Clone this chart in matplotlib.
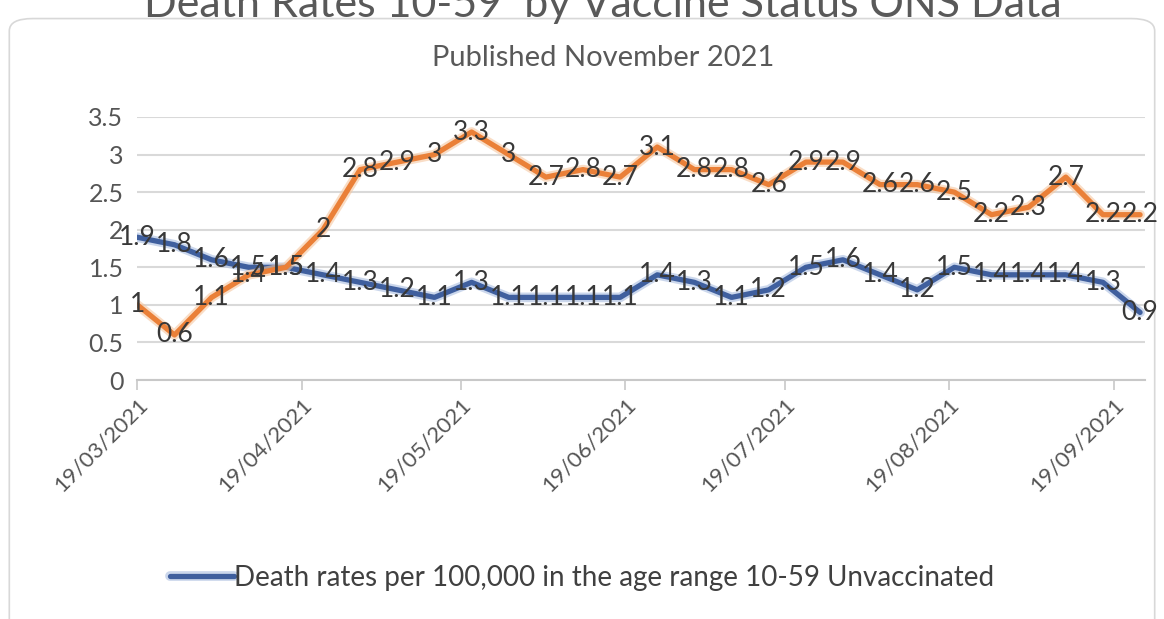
import datetime as dt
import matplotlib
matplotlib.use("Agg")
import matplotlib.pyplot as plt
import matplotlib.dates as mdates
import matplotlib.patheffects as pe
from matplotlib.patches import FancyBboxPatch

plt.rcParams['font.family'] = ['Lato', 'DejaVu Sans']

# weekly figures, starting 19/03/2021
start = dt.date(2021, 3, 19)
weeks = [start + dt.timedelta(days=7 * i) for i in range(28)]

unvaccinated = [1.9, 1.8, 1.6, 1.5, 1.5, 1.4, 1.3, 1.2, 1.1, 1.3, 1.1, 1.1, 1.1, 1.1,
                1.4, 1.3, 1.1, 1.2, 1.5, 1.6, 1.4, 1.2, 1.5, 1.4, 1.4, 1.4, 1.3, 0.9]
vaccinated = [1, 0.6, 1.1, 1.4, 1.5, 2, 2.8, 2.9, 3, 3.3, 3, 2.7, 2.8, 2.7,
              3.1, 2.8, 2.8, 2.6, 2.9, 2.9, 2.6, 2.6, 2.5, 2.2, 2.3, 2.7, 2.2, 2.2]

title = "Death Rates 10-59  by Vaccine Status ONS Data"
subtitle = "Published November 2021"
legend_label = "Death rates per 100,000 in the age range 10-59 Unvaccinated"

blue = "#3f5f9e"
orange = "#ea8038"
label_color = "#383838"

fig = plt.figure(figsize=(11.64, 6.19), dpi=100)
fig.patch.set_facecolor("white")

# rounded card outline
card = FancyBboxPatch((0.008, -0.05), 0.984, 1.02, boxstyle="round,pad=0,rounding_size=0.02",
                      transform=fig.transFigure, facecolor="none", edgecolor="#d8d8d8",
                      linewidth=1.2, zorder=-5)
fig.patches.append(card)

ax = fig.add_axes([0.118, 0.386, 0.866, 0.425])
ax.set_facecolor("none")

glow_b = [pe.Stroke(linewidth=7, foreground="#a9bde0", alpha=0.6), pe.Normal()]
glow_o = [pe.Stroke(linewidth=7, foreground="#f6c7a0", alpha=0.6), pe.Normal()]
ax.plot(weeks, unvaccinated, color=blue, lw=3.8, solid_capstyle="round",
        path_effects=glow_b, label=legend_label, zorder=3)
ax.plot(weeks, vaccinated, color=orange, lw=3.8, solid_capstyle="round",
        path_effects=glow_o, zorder=3)

for d, v in zip(weeks, unvaccinated):
    ax.text(d, v, f"{v:g}", ha="center", va="center", fontsize=19,
            color=label_color, zorder=4)
for d, v in zip(weeks, vaccinated):
    ax.text(d, v, f"{v:g}", ha="center", va="center", fontsize=19,
            color=label_color, zorder=4)

ax.set_ylim(0, 3.5)
ax.set_yticks([0, 0.5, 1, 1.5, 2, 2.5, 3, 3.5])
ax.set_yticklabels(["0", "0.5", "1", "1.5", "2", "2.5", "3", "3.5"])
ax.set_xlim(start - dt.timedelta(days=0.3), start + dt.timedelta(days=190.5))
ax.xaxis.set_major_locator(mdates.MonthLocator(bymonthday=19))
ax.xaxis.set_major_formatter(mdates.DateFormatter("%d/%m/%Y"))

ax.grid(axis="y", color="#d9d9d9", lw=1.5)
for s in ["top", "right", "left"]:
    ax.spines[s].set_visible(False)
ax.spines["bottom"].set_color("#c8c8c8")
ax.spines["bottom"].set_linewidth(1.5)
ax.tick_params(axis="y", length=0, labelsize=18, labelcolor="#555555", pad=10)
ax.tick_params(axis="x", length=7, color="#c8c8c8", width=1.2,
               labelsize=16, labelcolor="#555555", pad=3)
for lbl in ax.get_xticklabels():
    lbl.set_rotation(45)
    lbl.set_ha("right")
    lbl.set_rotation_mode("anchor")

fig.text(0.518, 0.962, title, ha="center", va="bottom", fontsize=31, color="#595959")
fig.text(0.518, 0.907, subtitle, ha="center", va="center", fontsize=21, color="#595959")

leg = fig.legend(loc="center", bbox_to_anchor=(0.5, 0.066), frameon=False,
                 fontsize=20, handlelength=2.3, handletextpad=0.0)
for t in leg.get_texts():
    t.set_color("#404040")

fig.savefig("out.png", dpi=100)
